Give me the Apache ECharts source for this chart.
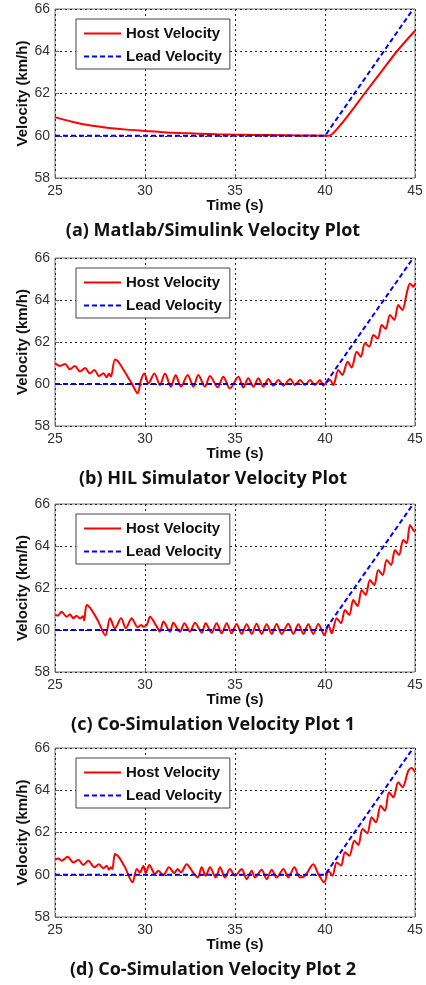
<!DOCTYPE html>
<html><head><meta charset="utf-8">
<script src="https://cdn.jsdelivr.net/npm/echarts@6/dist/echarts.min.js"></script>
<style>html,body{margin:0;padding:0;background:#fff}#c{width:426px;height:985px}</style>
</head><body><div id="c"></div>
<script>
// ---- data ----
const captions = [
  '(a) Matlab/Simulink Velocity Plot',
  '(b) HIL Simulator Velocity Plot',
  '(c) Co-Simulation Velocity Plot 1',
  '(d) Co-Simulation Velocity Plot 2'
];
const seriesNames = ['Host Velocity', 'Lead Velocity'];
const xAxisName = 'Time (s)';
const yAxisName = 'Velocity (km/h)';

const leadTime = [25, 40, 44.9];
const leadSpeed = [60, 60, 66];

const hostTimeA = [25,26,27,28,29,30,31,32,33,34,35,36,37,38,39,40,40.2,40.8,41.5,42.2,43.1,44.0,45];
const hostSpeedA = [60.88,60.65,60.48,60.37,60.29,60.23,60.17,60.13,60.1,60.07,60.05,60.04,60.03,60.02,60.01,60,60.0,60.45,61.2,62.0,63.0,64.0,64.97];

const hostTimeB = [25,25.28,25.56,25.83,26.1,26.39,26.67,26.94,27.19,27.44,27.69,27.87,28.0,28.11,28.33,28.52,29.26,29.59,29.78,29.96,30.19,30.52,30.83,31.11,31.44,31.7,32.0,32.37,32.69,32.96,33.33,33.61,34.04,34.35,34.72,35.19,35.46,35.74,36.02,36.3,36.57,36.85,37.13,37.41,37.69,38.06,38.33,38.61,38.89,39.17,39.44,39.72,39.91,40.05,40.28,40.46,40.74,40.96,41.26,41.48,41.76,41.99,42.22,42.46,42.69,42.93,43.15,43.37,43.61,43.85,44.07,44.3,44.54,44.72,44.91,45];
const hostSpeedB = [61.0,60.86,60.95,60.7,60.86,60.59,60.76,60.5,60.67,60.38,60.51,60.32,60.5,60.35,61.17,61.06,60.03,59.56,60.19,60.5,60.03,60.5,59.95,60.5,59.87,60.43,59.87,60.43,59.87,60.43,59.87,60.38,59.84,60.35,59.79,60.35,59.83,60.27,59.87,60.27,59.87,60.24,59.92,60.19,59.92,60.24,59.95,60.19,59.95,60.19,59.95,60.19,59.92,60.05,60.19,59.95,60.67,60.43,61.06,60.78,61.54,61.3,61.94,61.78,62.33,62.17,62.81,62.62,63.29,63.05,63.76,63.52,64.32,64.79,64.63,64.79];

const hostTimeC = [25,25.15,25.37,25.65,25.83,26.02,26.2,26.39,26.55,26.62,26.76,27.04,27.41,27.8,28.06,28.33,28.67,28.94,29.26,29.59,29.78,29.9,30.1,30.28,30.65,30.83,31.02,31.39,31.57,31.94,32.19,32.5,32.78,33.15,33.37,33.7,33.98,34.26,34.54,34.81,35.09,35.37,35.65,35.93,36.2,36.48,36.76,37.04,37.31,37.59,37.96,38.24,38.52,38.8,39.07,39.35,39.63,39.96,40.19,40.37,40.65,40.89,41.11,41.35,41.57,41.81,42.04,42.26,42.5,42.74,42.96,43.2,43.43,43.67,43.89,44.11,44.35,44.54,44.72,44.91,45];
const hostSpeedC = [60.75,60.68,60.87,60.63,60.74,60.56,60.68,60.55,60.66,60.45,61.19,60.95,60.4,59.74,60.56,60.08,60.56,60.08,60.56,60.13,60.24,60.16,60.24,60.63,60.16,59.92,60.4,59.92,60.35,59.92,60.32,59.92,60.35,59.87,60.32,59.87,60.32,59.84,60.32,59.84,60.29,59.81,60.27,59.81,60.3,59.81,60.27,59.81,60.29,59.81,60.3,59.81,60.27,59.81,60.27,59.81,60.29,59.76,60.24,59.84,60.56,60.32,60.95,60.71,61.43,61.14,61.9,61.67,62.38,62.14,62.86,62.62,63.33,63.1,63.81,63.57,64.29,64.13,65.0,64.76,64.68];

const hostTimeD = [25,25.19,25.37,25.7,26.02,26.3,26.57,26.85,27.19,27.44,27.69,27.87,28.0,28.11,28.19,28.33,28.52,28.89,29.31,29.54,29.72,29.91,30.04,30.24,30.56,30.74,31.02,31.33,31.63,31.81,32.0,32.31,32.69,32.93,33.15,33.37,33.61,33.93,34.17,34.44,34.72,35.0,35.37,35.65,35.93,36.11,36.48,36.76,37.04,37.31,37.69,37.96,38.3,38.61,38.89,39.35,39.63,39.96,40.19,40.41,40.65,40.89,41.11,41.35,41.63,41.85,42.09,42.35,42.59,42.83,43.09,43.33,43.56,43.8,44.07,44.31,44.63,44.81,45];
const hostSpeedD = [60.71,60.77,60.66,60.85,60.58,60.71,60.46,60.66,60.35,60.5,60.3,60.43,60.24,60.35,60.27,60.98,60.87,60.35,59.64,60.27,60.11,60.43,60.08,60.46,60.03,60.19,59.98,60.35,60.08,60.27,60.11,60.5,60.08,59.87,60.35,59.95,60.35,59.87,60.35,59.87,60.27,59.95,60.27,59.79,60.19,59.87,60.24,59.79,60.24,59.87,60.27,59.87,60.35,59.87,59.95,60.5,60.03,59.64,60.19,59.95,60.58,60.43,61.06,60.9,61.61,61.41,62.16,61.97,62.72,62.48,63.27,63.03,63.9,63.67,64.38,64.14,64.93,65.05,64.85];

const hostTimes = [hostTimeA, hostTimeB, hostTimeC, hostTimeD];
const hostSpeeds = [hostSpeedA, hostSpeedB, hostSpeedC, hostSpeedD];

// ---- layout ----
const panels = [
  {top: 9, height: 169, cap: 229},
  {top: 258, height: 168, cap: 477},
  {top: 504, height: 168, cap: 723},
  {top: 748, height: 169, cap: 968}
];
const AX_FONT = 'Liberation Sans, Arial, sans-serif';
const zip = (a, b) => a.map((v, i) => [v, b[i]]);

const option = {
  animation: false,
  backgroundColor: '#fff',
  grid: panels.map(p => ({left: 55, width: 360, top: p.top, height: p.height,
    show: true, borderColor: '#777', borderWidth: 1, backgroundColor: '#fff'})),
  xAxis: panels.map((p, i) => ({
    gridIndex: i, type: 'value', min: 25, max: 45, interval: 5,
    name: xAxisName, nameLocation: 'middle', nameGap: 20, nameMoveOverlap: false,
    nameTextStyle: {fontFamily: AX_FONT, fontWeight: 'bold', fontSize: 15, color: '#111'},
    axisLine: {show: false},
    axisTick: {show: true, inside: true, length: 4, lineStyle: {color: '#666'}},
    axisLabel: {fontFamily: AX_FONT, fontSize: 14, color: '#333', margin: 6},
    splitLine: {show: true, lineStyle: {color: '#222', type: [2, 3], width: 1}}
  })),
  yAxis: panels.map((p, i) => ({
    gridIndex: i, type: 'value', min: 58, max: 66, interval: 2,
    name: yAxisName, nameLocation: 'middle', nameGap: 25, nameRotate: 90, nameMoveOverlap: false,
    nameTextStyle: {fontFamily: AX_FONT, fontWeight: 'bold', fontSize: 15, color: '#111'},
    axisLine: {show: false},
    axisTick: {show: true, inside: true, length: 4, lineStyle: {color: '#666'}},
    axisLabel: {fontFamily: AX_FONT, fontSize: 14, color: '#333', margin: 5},
    splitLine: {show: true, lineStyle: {color: '#222', type: [2, 3], width: 1}}
  })),
  legend: panels.map(p => ({
    left: 76, top: p.top + 10, orient: 'vertical', data: seriesNames,
    backgroundColor: '#fff', borderColor: '#444', borderWidth: 1, borderRadius: 0,
    padding: [7, 8, 5, 7], itemGap: 8, itemWidth: 37, itemHeight: 14,
    selectedMode: false,
    itemStyle: {opacity: 0},
    textStyle: {fontFamily: AX_FONT, fontWeight: 'bold', fontSize: 15, color: '#111'}
  })),
  series: [],
  graphic: panels.map((p, i) => ({
    type: 'text', left: 'center', top: p.cap - 7,
    style: {text: captions[i], font: 'bold 18px "Open Sans", sans-serif', fill: '#111'}
  }))
};

panels.forEach((p, i) => {
  option.series.push({
    type: 'line', name: seriesNames[0], xAxisIndex: i, yAxisIndex: i,
    data: zip(hostTimes[i], hostSpeeds[i]), symbol: 'none', smooth: 0.3,
    lineStyle: {color: '#ff0000', width: 2}, itemStyle: {color: '#ff0000'}
  });
  option.series.push({
    type: 'line', name: seriesNames[1], xAxisIndex: i, yAxisIndex: i,
    data: zip(leadTime, leadSpeed), symbol: 'none',
    lineStyle: {color: '#0000ff', width: 2, type: [5, 3]}, itemStyle: {color: '#0000ff'}
  });
});

const chart = echarts.init(document.getElementById('c'), null, {renderer: 'canvas'});
chart.setOption(option);
</script>
</body></html>
